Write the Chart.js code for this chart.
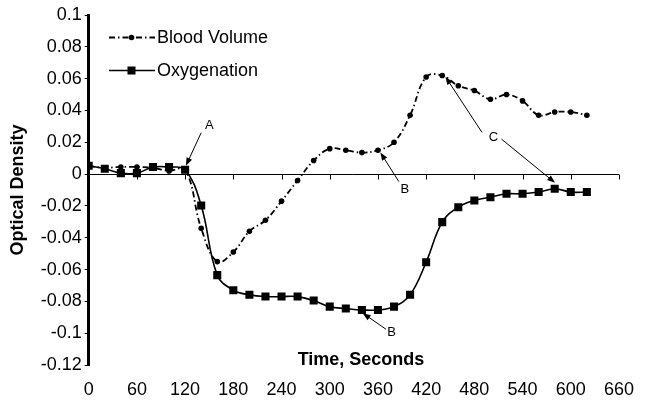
<!DOCTYPE html>
<html>
<head>
<meta charset="utf-8">
<script src="https://cdn.jsdelivr.net/npm/chart.js@4.4.1/dist/chart.umd.min.js"></script>
<style>
  html, body { margin: 0; padding: 0; background: #fff; }
  #wrap { width: 648px; height: 402px; }
</style>
</head>
<body>
<div id="wrap"><canvas id="odChart" width="648" height="402"></canvas></div>
<script>
// ========== DADOS ==========
const times = [0, 20, 40, 60, 80, 100, 120, 140, 160, 180, 200, 220, 240, 260, 280, 300,
               320, 340, 360, 380, 400, 420, 440, 460, 480, 500, 520, 540, 560, 580, 600, 620];

const bloodVolume = [0.005, 0.004, 0.0045, 0.0045, 0.004, 0.002, 0.003,
                     -0.034, -0.055, -0.049, -0.036, -0.029, -0.017, -0.004, 0.0085,
                     0.016, 0.015, 0.0135, 0.015, 0.020, 0.037, 0.061, 0.062,
                     0.0555, 0.0525, 0.047, 0.050, 0.046, 0.037, 0.039, 0.039, 0.037];

const oxygenation = [0.0053, 0.0033, 0.0006, 0.0006, 0.0044, 0.0044, 0.0027,
                     -0.0197, -0.0635, -0.073, -0.0759, -0.077, -0.077, -0.077, -0.0795,
                     -0.0833, -0.0845, -0.0854, -0.0854, -0.0833, -0.0759, -0.0554, -0.0302,
                     -0.0208, -0.0166, -0.0145, -0.0124, -0.0124, -0.0113, -0.0092, -0.0113, -0.0113];

const seriesLabels = ['Blood Volume', 'Oxygenation'];
const xTitle = 'Time, Seconds';
const yTitle = 'Optical Density';

// annotations: label position and arrows (from -> to), in data units
const notes = [
    { text: 'A', at: [150, 0.0304], arrows: [[[140, 0.026], [121, 0.0052]]] },
    { text: 'B', at: [393.5, -0.0094], arrows: [[[386, -0.0047], [363, 0.0136]]] },
    { text: 'B', at: [377, -0.0996], arrows: [[[370, -0.0975], [341, -0.0874]]] },
    { text: 'C', at: [503.6, 0.0233], arrows: [[[489.5, 0.0262], [444, 0.0612]], [[513.7, 0.022], [580.5, -0.0055]]] }
];

const FONT = '"Liberation Sans", Arial, sans-serif';

function toPoints(xs, ys) {
    return xs.map((x, i) => ({ x: x, y: ys[i] }));
}

// eixo horizontal no zero, com marcas
const zeroAxisPlugin = {
    id: 'zeroAxis',
    beforeDatasetsDraw(chart) {
        const { ctx, chartArea, scales } = chart;
        const y0 = Math.round(scales.y.getPixelForValue(0)) + 0.5;
        ctx.save();
        ctx.strokeStyle = '#000';
        ctx.lineWidth = 1;
        ctx.beginPath();
        ctx.moveTo(chartArea.left, y0);
        ctx.lineTo(chartArea.right, y0);
        scales.x.ticks.forEach(t => {
            if (t.value === 0) return;
            const px = Math.round(scales.x.getPixelForValue(t.value)) + 0.5;
            ctx.moveTo(px, y0);
            ctx.lineTo(px, y0 + 5);
        });
        ctx.stroke();
        ctx.restore();
    }
};

// legenda, título do eixo x e anotações
const extrasPlugin = {
    id: 'extras',
    afterDatasetsDraw(chart) {
        const { ctx, scales } = chart;
        const xs = scales.x, ys = scales.y;
        ctx.save();

        // legenda
        const rows = [37.5, 70.5];
        chart.data.datasets.forEach((ds, i) => {
            const y = rows[i];
            ctx.strokeStyle = '#000';
            ctx.lineWidth = ds.borderWidth;
            ctx.setLineDash(ds.borderDash || []);
            ctx.beginPath();
            ctx.moveTo(109, y);
            ctx.lineTo(155, y);
            ctx.stroke();
            ctx.setLineDash([]);
            ctx.fillStyle = '#000';
            if (ds.pointStyle === 'rect') {
                ctx.fillRect(127.5, y - 4, 8, 8);
            } else {
                ctx.beginPath();
                ctx.arc(131.5, y, ds.pointRadius, 0, Math.PI * 2);
                ctx.fill();
            }
            ctx.font = '18px ' + FONT;
            ctx.textAlign = 'left';
            ctx.textBaseline = 'middle';
            ctx.fillText(ds.label, 157, y + 1);
        });

        // título do eixo x
        ctx.font = 'bold 18px ' + FONT;
        ctx.textAlign = 'center';
        ctx.textBaseline = 'middle';
        ctx.fillStyle = '#000';
        ctx.fillText(xTitle, 361, 360);

        // anotações
        ctx.font = '13px ' + FONT;
        ctx.lineWidth = 1;
        notes.forEach(n => {
            ctx.fillText(n.text, xs.getPixelForValue(n.at[0]), ys.getPixelForValue(n.at[1]));
            n.arrows.forEach(a => {
                const x1 = xs.getPixelForValue(a[0][0]), y1 = ys.getPixelForValue(a[0][1]);
                const x2 = xs.getPixelForValue(a[1][0]), y2 = ys.getPixelForValue(a[1][1]);
                const ang = Math.atan2(y2 - y1, x2 - x1);
                ctx.beginPath();
                ctx.moveTo(x1, y1);
                ctx.lineTo(x2 - 5 * Math.cos(ang), y2 - 5 * Math.sin(ang));
                ctx.stroke();
                ctx.beginPath();
                ctx.moveTo(x2, y2);
                ctx.lineTo(x2 - 8 * Math.cos(ang) + 3 * Math.sin(ang), y2 - 8 * Math.sin(ang) - 3 * Math.cos(ang));
                ctx.lineTo(x2 - 8 * Math.cos(ang) - 3 * Math.sin(ang), y2 - 8 * Math.sin(ang) + 3 * Math.cos(ang));
                ctx.closePath();
                ctx.fill();
            });
        });
        ctx.restore();
    }
};

const odChart = new Chart(document.getElementById('odChart').getContext('2d'), {
    type: 'line',
    data: {
        datasets: [
            {
                label: seriesLabels[0],
                data: toPoints(times, bloodVolume),
                borderColor: '#000',
                backgroundColor: '#000',
                borderWidth: 1.8,
                borderDash: [6, 3, 1.5, 3],
                pointStyle: 'circle',
                pointRadius: 2.8,
                pointBorderWidth: 0,
                tension: 0.4,
                order: 2
            },
            {
                label: seriesLabels[1],
                data: toPoints(times, oxygenation),
                borderColor: '#000',
                backgroundColor: '#000',
                borderWidth: 1.6,
                pointStyle: 'rect',
                pointRadius: 5.7,
                pointBorderWidth: 0,
                tension: 0.4,
                order: 1
            }
        ]
    },
    options: {
        responsive: false,
        animation: false,
        layout: { padding: { left: 0, right: 16, top: 15, bottom: 0 } },
        plugins: {
            legend: { display: false },
            tooltip: { enabled: false },
            title: { display: false }
        },
        scales: {
            x: {
                type: 'linear',
                min: 0,
                max: 660,
                border: { display: false },
                grid: { display: false, drawTicks: false },
                ticks: {
                    stepSize: 60,
                    padding: 14,
                    color: '#000',
                    font: { size: 18, family: FONT },
                    maxRotation: 0
                },
                afterFit: function(scale) { scale.height = 37; }
            },
            y: {
                min: -0.12,
                max: 0.1,
                border: { display: true, color: '#000', width: 3 },
                grid: { drawOnChartArea: false, drawTicks: true, tickLength: 4, color: '#000', lineWidth: 1 },
                ticks: {
                    stepSize: 0.02,
                    padding: 3,
                    color: '#000',
                    font: { size: 18, family: FONT },
                    callback: function(value) {
                        return parseFloat(value.toFixed(2)).toString();
                    }
                },
                title: {
                    display: true,
                    text: yTitle,
                    color: '#000',
                    font: { size: 18, weight: 'bold', family: FONT },
                    padding: { top: 7, bottom: 0 }
                },
                afterFit: function(scale) { scale.width = 88.7; }
            }
        }
    },
    plugins: [zeroAxisPlugin, extrasPlugin]
});
</script>
</body>
</html>
